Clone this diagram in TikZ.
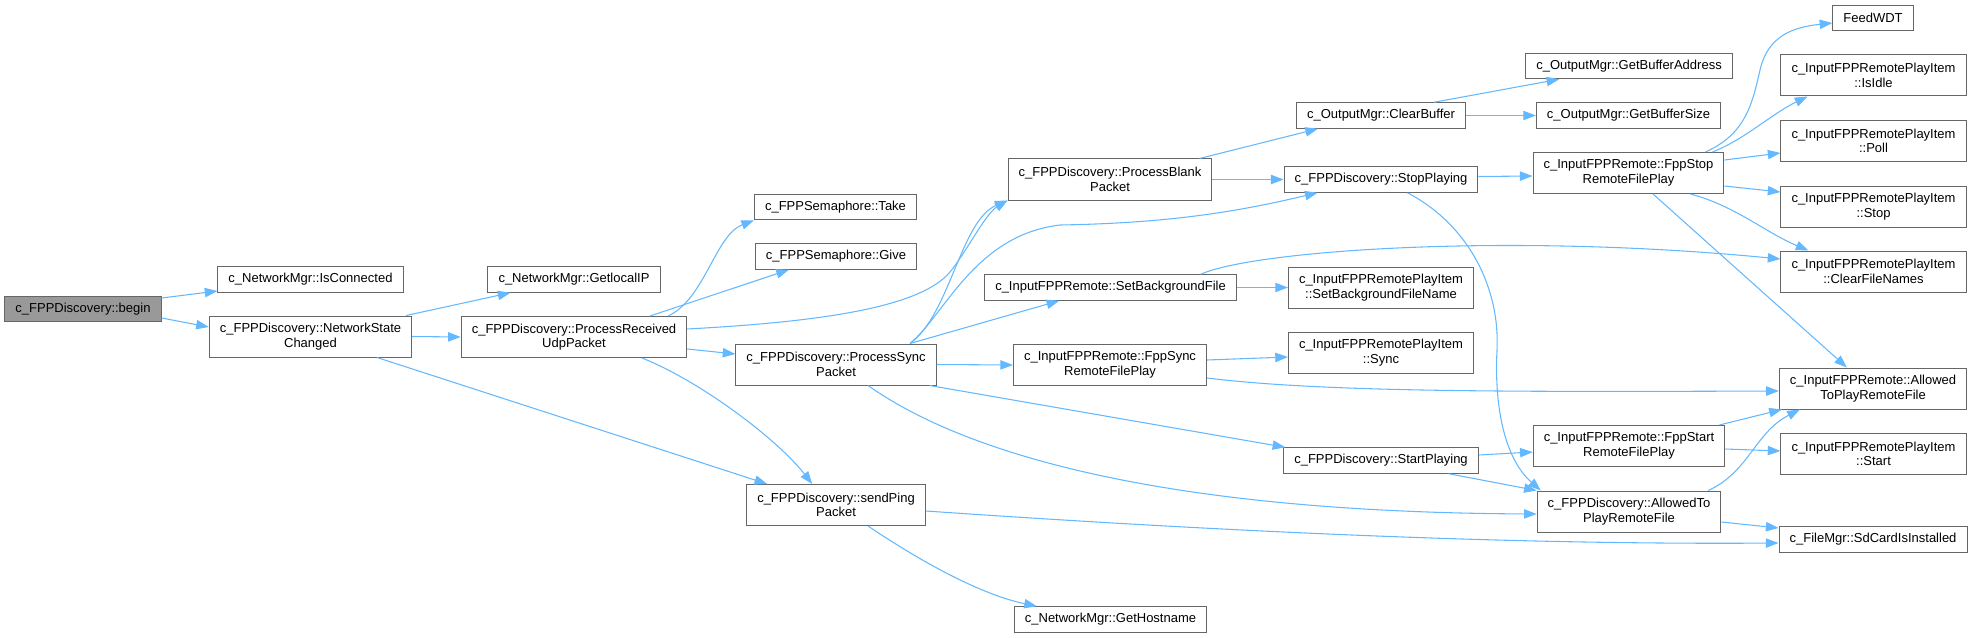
\documentclass[tikz,border=0pt]{standalone}
\usepackage{fontspec}
\setmainfont{Liberation Sans}
\usetikzlibrary{arrows.meta, calc}
\definecolor{edgeblue}{HTML}{63B8FF}
\definecolor{boxgrey}{HTML}{666666}
\definecolor{rootgrey}{HTML}{999999}

\begin{document}
\begin{tikzpicture}[
    x=0.75pt, y=-0.75pt,
    func/.style={rectangle, draw=boxgrey, line width=0.75pt, fill=white, font=\fontsize{9.75pt}{11pt}\selectfont, align=center, inner xsep=7.9pt, inner ysep=0pt, minimum height=19.1pt},
    tall/.style={func, minimum height=30.75pt},
    root/.style={func, fill=rootgrey},
    arrow/.style={-{Triangle[length=9.5pt, width=7pt]}, draw=edgeblue, line width=0.8pt}
]
    \useasboundingbox (0,0) rectangle (1972,638);

    % Nodes
    \node[root] (begin) at (83,309) {c\_FPPDiscovery::begin};
    \node[func] (isconn) at (310.5,279.5) {c\_NetworkMgr::IsConnected};
    \node[tall] (netchg) at (310.5,336.5) {c\_FPPDiscovery::NetworkState\\Changed};

    \node[func] (getip) at (574,279.5) {c\_NetworkMgr::GetlocalIP};
    \node[tall] (procudp) at (574,337) {c\_FPPDiscovery::ProcessReceived\\UdpPacket};

    \node[func] (take) at (835.5,207) {c\_FPPSemaphore::Take};
    \node[func] (give) at (836,256.5) {c\_FPPSemaphore::Give};
    \node[tall] (sync) at (836,364.5) {c\_FPPDiscovery::ProcessSync\\Packet};
    \node[tall] (ping) at (836,505) {c\_FPPDiscovery::sendPing\\Packet};

    \node[tall] (blank) at (1110,179.5) {c\_FPPDiscovery::ProcessBlank\\Packet};
    \node[func] (setbg) at (1110.5,287.5) {c\_InputFPPRemote::SetBackgroundFile};
    \node[tall] (fppsync) at (1110,365) {c\_InputFPPRemote::FppSync\\RemoteFilePlay};
    \node[func] (hostname) at (1110.5,619.5) {c\_NetworkMgr::GetHostname};

    \node[func] (clearbuf) at (1381,115.5) {c\_OutputMgr::ClearBuffer};
    \node[func] (stopplay) at (1381,179.5) {c\_FPPDiscovery::StopPlaying};
    \node[tall] (setbgname) at (1381,287.5) {c\_InputFPPRemotePlayItem\\::SetBackgroundFileName};
    \node[tall] (itemsync) at (1381,352.5) {c\_InputFPPRemotePlayItem\\::Sync};
    \node[func] (startplay) at (1381,460.5) {c\_FPPDiscovery::StartPlaying};

    \node[func] (bufaddr) at (1629,66) {c\_OutputMgr::GetBufferAddress};
    \node[func] (bufsize) at (1628.5,115.5) {c\_OutputMgr::GetBufferSize};
    \node[tall] (fppstop) at (1628.5,173) {c\_InputFPPRemote::FppStop\\RemoteFilePlay};
    \node[tall] (fppstart) at (1629,446) {c\_InputFPPRemote::FppStart\\RemoteFilePlay};
    \node[tall] (allowed) at (1629,511.5) {c\_FPPDiscovery::AllowedTo\\PlayRemoteFile};

    \node[func] (feedwdt) at (1873,18) {FeedWDT};
    \node[tall] (isidle) at (1873.5,75.5) {c\_InputFPPRemotePlayItem\\::IsIdle};
    \node[tall] (poll) at (1873.5,141) {c\_InputFPPRemotePlayItem\\::Poll};
    \node[tall] (itemstop) at (1873.5,206.5) {c\_InputFPPRemotePlayItem\\::Stop};
    \node[tall] (clearnames) at (1873.5,271.5) {c\_InputFPPRemotePlayItem\\::ClearFileNames};
    \node[tall] (remallowed) at (1873,388.5) {c\_InputFPPRemote::Allowed\\ToPlayRemoteFile};
    \node[tall] (itemstart) at (1873.5,454) {c\_InputFPPRemotePlayItem\\::Start};
    \node[func] (sdcard) at (1873,539.5) {c\_FileMgr::SdCardIsInstalled};

    % Arrows
    \draw[arrow] ($(begin.east)+(0,-11)$) -- ($(isconn.west)+(0,11.5)$);
    \draw[arrow] ($(begin.east)+(0,9)$) -- ($(netchg.west)+(0,-9.5)$);

    \draw[arrow] ($(netchg.north east)+(-6,0)$) -- ($(getip.south west)+(23,0)$);
    \draw[arrow] (netchg.east) -- (procudp.west);
    \draw[arrow] ($(netchg.south)+(66.5,0)$) -- ($(ping.north west)+(21,0)$);

    \draw[arrow] ($(procudp.north)+(94,0)$) .. controls +(37,-17) and +(-39,15) .. (take.south west);
    \draw[arrow] ($(procudp.north)+(76,0)$) -- ($(give.south west)+(34,0)$);
    \draw[arrow] ($(procudp.east)+(0,-8)$) .. controls +(130,-7) and +(-30,36) .. (950,272)
        .. controls +(15,-18) and +(-22,13) .. (blank.south west);
    \draw[arrow] ($(procudp.east)+(0,12)$) -- ($(sync.west)+(0,-10.5)$);
    \draw[arrow] ($(procudp.south)+(68,0)$) .. controls +(58,23) and +(-35,-45) .. ($(ping.north west)+(66,0)$);

    \draw[arrow] ($(sync.north)+(74,0)$) .. controls +(40,-29) and +(-47,20) .. (blank.south west);
    \draw[arrow] ($(sync.north)+(74,0)$) .. controls +(35,-29) and +(-85,10) .. (1060,225)
        .. controls +(120,-2) and +(-68,16) .. ($(stopplay.south west)+(34,0)$);
    \draw[arrow] ($(sync.north)+(74,0)$) -- ($(setbg.south west)+(75,0)$);
    \draw[arrow] (sync.east) -- (fppsync.west);
    \draw[arrow] ($(sync.south east)+(-7,0)$) -- ($(startplay.north west)+(2,0)$);
    \draw[arrow] ($(sync.south)+(32,0)$) .. controls +(92,65) and +(-386,-2) .. ($(allowed.west)+(0,2.5)$);

    \draw[arrow] ($(blank.north east)+(-13,0)$) -- ($(clearbuf.south west)+(22,0)$);
    \draw[arrow] (blank.east) -- (stopplay.west);

    \draw[arrow] (setbg.east) -- (setbgname.west);
    \draw[arrow] ($(setbg.north east)+(-36,0)$) .. controls +(50,-23) and +(-279,-27) .. ($(clearnames.west)+(0,-12.5)$);

    \draw[arrow] ($(fppsync.east)+(0,-5)$) -- ($(itemsync.west)+(0,4.5)$);
    \draw[arrow] ($(fppsync.east)+(0,13)$) .. controls +(114,14) and +(-279,1) .. ($(remallowed.west)+(0,2.5)$);

    \draw[arrow] ($(ping.east)+(0,6)$) .. controls +(275,19) and +(-279,2) .. ($(sdcard.west)+(0,3.5)$);
    \draw[arrow] ($(ping.south)+(32,0)$) .. controls +(52,35) and +(-57,-12) .. ($(hostname.north west)+(23,0)$);

    \draw[arrow] ($(clearbuf.north east)+(-32,0)$) -- ($(bufaddr.south west)+(34,0)$);
    \draw[arrow] (clearbuf.east) -- (bufsize.west);

    \draw[arrow] ($(stopplay.east)+(0,-3)$) -- ($(fppstop.west)+(0,3)$);
    \draw[arrow] ($(stopplay.south east)+(-71,0)$) .. controls +(63,33) and +(3,-60) .. (1497,350)
        .. controls +(-3,60) and +(-35,-31) .. ($(allowed.north west)+(4,0)$);

    \draw[arrow] ($(startplay.east)+(0,-5.5)$) -- ($(fppstart.west)+(0,6)$);
    \draw[arrow] ($(startplay.south east)+(-30,0)$) -- (allowed.north west);

    \draw[arrow] ($(fppstop.north east)+(-19,0)$) .. controls +(40,-18) and +(-8,35) .. (1760,70)
        .. controls +(8,-35) and +(-38,4) .. ($(feedwdt.west)+(0,5)$);
    \draw[arrow] ($(fppstop.north east)+(-12,0)$) .. controls +(33,-13) and +(-37,18) .. ($(isidle.south west)+(27,0)$);
    \draw[arrow] ($(fppstop.east)+(0,-13)$) -- ($(poll.west)+(0,12)$);
    \draw[arrow] ($(fppstop.east)+(0,13)$) -- ($(itemstop.west)+(0,-14.5)$);
    \draw[arrow] ($(fppstop.south east)+(-34,0)$) .. controls +(45,12) and +(-43,-18) .. ($(clearnames.north west)+(28,0)$);
    \draw[arrow] ($(fppstop.south)+(24.5,0)$) -- ($(remallowed.north west)+(68,0)$);

    \draw[arrow] ($(fppstart.north east)+(-6,0)$) -- ($(remallowed.south west)+(3,0)$);
    \draw[arrow] ($(fppstart.east)+(0,3)$) -- ($(itemstart.west)+(0,-3)$);

    \draw[arrow] ($(allowed.north east)+(-13,0)$) .. controls +(41,-19) and +(-45,23) .. ($(remallowed.south west)+(21,0)$);
    \draw[arrow] ($(allowed.east)+(0,10.5)$) -- ($(sdcard.west)+(0,-11.5)$);

\end{tikzpicture}
\end{document}
